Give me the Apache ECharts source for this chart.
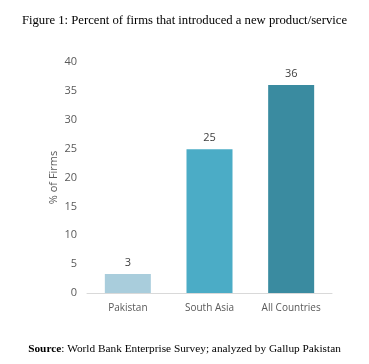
<!DOCTYPE html>
<html><head><meta charset="utf-8">
<script src="https://cdn.jsdelivr.net/npm/echarts@6/dist/echarts.min.js"></script>
<style>html,body{margin:0;padding:0;background:#fff}#c{width:369px;height:364px}</style>
</head><body><div id="c"></div>
<script>
const categories = ['Pakistan', 'South Asia', 'All Countries'];
const values = [3.3, 24.9, 36];
const barColors = ['#A9CDDC', '#4BACC6', '#3A8BA0'];
const yTicks = [0, 5, 10, 15, 20, 25, 30, 35, 40];

const chart = echarts.init(document.getElementById('c'), null, {renderer: 'canvas'});
chart.setOption({
  animation: false,
  backgroundColor: '#fff',
  title: [
    {text: 'Figure 1: Percent of firms that introduced a new product/service', left: 'center', top: 9,
     textStyle: {fontFamily: 'Liberation Serif', fontSize: 12.7, fontWeight: 'normal', color: '#000'}},
    {text: '{b|Source}: World Bank Enterprise Survey; analyzed by Gallup Pakistan', left: 'center', top: 339,
     textStyle: {fontFamily: 'Liberation Serif', fontSize: 11.3, fontWeight: 'normal', color: '#000',
       rich: {b: {fontFamily: 'Liberation Serif', fontSize: 11.3, fontWeight: 'bold', color: '#000'}}}}
  ],
  grid: {left: 87, right: 37, top: 62, bottom: 71},
  xAxis: {
    type: 'category', data: categories,
    axisLine: {lineStyle: {color: '#D9D9D9', width: 1}},
    axisTick: {show: false},
    axisLabel: {color: '#595959', fontFamily: 'Open Sans', fontSize: 10, margin: 10}
  },
  yAxis: {
    type: 'value', min: yTicks[0], max: yTicks[yTicks.length - 1], interval: 5,
    name: '% of Firms', nameLocation: 'middle', nameGap: 28, nameRotate: 90, nameMoveOverlap: false,
    nameTextStyle: {color: '#595959', fontFamily: 'Open Sans', fontSize: 11},
    axisLine: {show: false}, axisTick: {show: false}, splitLine: {show: false},
    axisLabel: {color: '#595959', fontFamily: 'Open Sans', fontSize: 11, margin: 10}
  },
  series: [{
    type: 'bar', barWidth: 46,
    data: values.map((v, i) => ({value: v, itemStyle: {color: barColors[i]}})),
    label: {show: true, position: 'top', distance: 6, color: '#404040', fontFamily: 'Open Sans', fontSize: 11,
      formatter: p => Math.round(p.value)}
  }]
});
</script></body></html>
